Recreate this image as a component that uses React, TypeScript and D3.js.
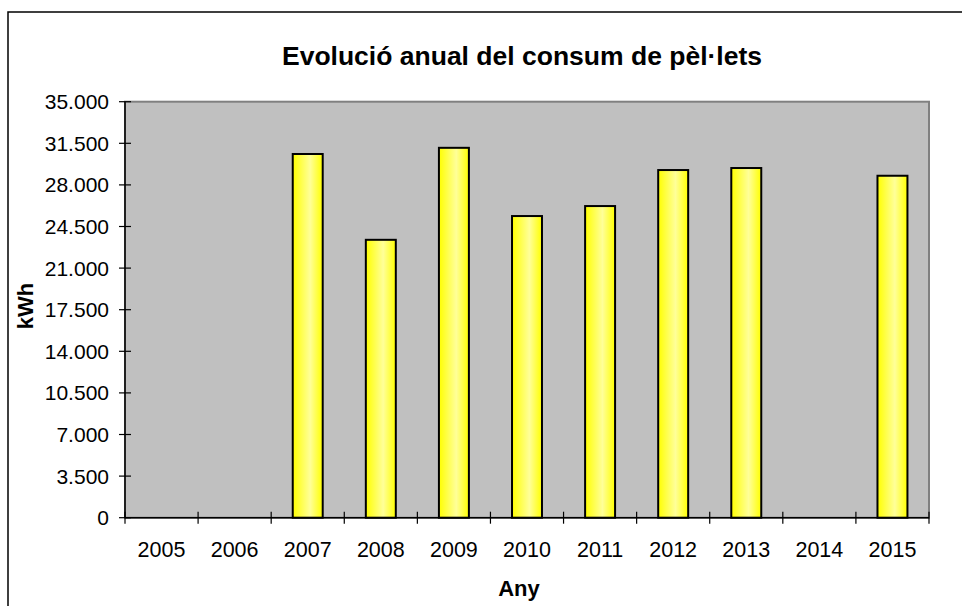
import React from "react";
import * as d3 from "d3";

const years = ["2005", "2006", "2007", "2008", "2009", "2010", "2011", "2012", "2013", "2014", "2015"];
const values: (number | null)[] = [null, null, 30600, 23380, 31120, 25380, 26220, 29250, 29420, null, 28770];
const yTicks = [0, 3500, 7000, 10500, 14000, 17500, 21000, 24500, 28000, 31500, 35000];

const W = 962;
const H = 606;
const X0 = 125;
const X1 = 929;
const Y0 = 101.7;
const Y1 = 517.7;

const fmt = (v: number) => (v === 0 ? "0" : d3.format(",")(v).replace(/,/g, "."));

export default function App() {
  const x = d3.scaleBand<string>().domain(years).range([X0, X1]).paddingInner(0.59).paddingOuter(0.295);
  const y = d3.scaleLinear().domain([0, 35000]).range([Y1, Y0]);
  const font = "'Liberation Sans', Arial, sans-serif";
  const boundaries = d3.range(years.length + 1).map((i) => X0 + i * ((X1 - X0) / years.length));

  return (
    <svg width={W} height={H} style={{ position: "absolute", left: 0, top: 0 }} fontFamily={font}>
      <defs>
        <linearGradient id="barg" x1="0" x2="1" y1="0" y2="0">
          <stop offset="0%" stopColor="#ffff00" />
          <stop offset="58%" stopColor="#ffff99" />
          <stop offset="100%" stopColor="#ffff00" />
        </linearGradient>
      </defs>
      <rect x={0} y={0} width={W} height={H} fill="#ffffff" />
      <rect x={8} y={12} width={W + 20} height={H + 20} fill="#ffffff" stroke="#000" strokeWidth={1.5} />
      <text x={522} y={65} textAnchor="middle" fontSize={26.5} fontWeight="bold" fill="#000">
        Evolució anual del consum de pèl·lets
      </text>
      <rect x={X0} y={Y0} width={X1 - X0} height={Y1 - Y0} fill="#c0c0c0" stroke="#808080" strokeWidth={2} />
      {years.map((yr, i) => {
        const v = values[i];
        if (v == null) return null;
        return (
          <rect
            key={yr}
            x={x(yr)}
            y={y(v)}
            width={x.bandwidth()}
            height={y(0) - y(v)}
            fill="url(#barg)"
            stroke="#000"
            strokeWidth={2}
          />
        );
      })}
      <line x1={X0} x2={X0} y1={Y0} y2={Y1} stroke="#000" strokeWidth={1.5} />
      <line x1={X0} x2={X1} y1={Y1} y2={Y1} stroke="#000" strokeWidth={1.5} />
      {yTicks.map((t) => (
        <g key={t}>
          <line x1={X0 - 6} x2={X0 + 6} y1={y(t)} y2={y(t)} stroke="#000" strokeWidth={1.2} />
          <text x={109} y={y(t)} dy="0.36em" textAnchor="end" fontSize={21} fill="#000">
            {fmt(t)}
          </text>
        </g>
      ))}
      {boundaries.map((b, i) => (
        <line key={i} x1={b} x2={b} y1={Y1 - 6} y2={Y1 + 6} stroke="#000" strokeWidth={1.2} />
      ))}
      {years.map((yr) => (
        <text key={yr} x={(x(yr) as number) + x.bandwidth() / 2} y={556.5} textAnchor="middle" fontSize={21.5} fill="#000">
          {yr}
        </text>
      ))}
      <text x={519} y={596} textAnchor="middle" fontSize={22} fontWeight="bold" fill="#000">
        Any
      </text>
      <text transform={`translate(33,306) rotate(-90)`} textAnchor="middle" fontSize={22} fontWeight="bold" fill="#000">
        kWh
      </text>
    </svg>
  );
}
